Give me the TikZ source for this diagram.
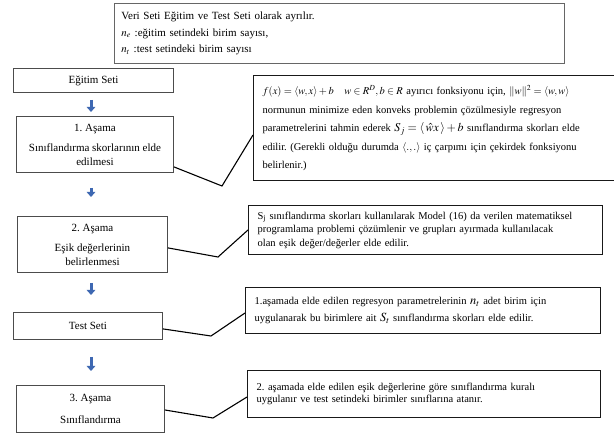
\documentclass[tikz,border=0pt]{standalone}
\usepackage{mathptmx}
\usepackage{fontspec}
\setmainfont{Liberation Serif}
\usetikzlibrary{arrows.meta,calc}
\definecolor{arrowblue}{RGB}{62,104,178}
\frenchspacing
\begin{document}
\begin{tikzpicture}[x=1pt,y=-1pt,
  lbox/.style={draw=black!70, line width=0.9pt, anchor=north west, align=center, inner sep=0pt,
    font=\fontsize{11}{13.5}\selectfont},
  rbox/.style={draw=black!90, line width=1.3pt, anchor=north west, align=left, inner xsep=9pt, inner ysep=0pt},
  topbox/.style={draw=black!60, line width=0.9pt, anchor=north west, align=left, inner xsep=7pt, inner ysep=0pt},
  conn/.style={draw=black, line width=1.1pt},
  barrow/.style={draw=arrowblue, line width=3pt, -{Triangle[width=8.5pt,length=5pt]}}
]
\useasboundingbox (0,0) rectangle (614,435);
\fill[white] (0,0) rectangle (614,435);

% top box
\node[topbox, minimum width=450pt, minimum height=60pt, text width=436pt,
  font=\fontsize{11}{16.5}\selectfont] (top) at (114,3)
  {Veri Seti Eğitim ve Test Seti olarak ayrılır.\\
   $n_e$ :eğitim setindeki birim sayısı,\\
   $n_t$ :test setindeki birim sayısı};

% left column
\node[lbox, minimum width=160pt, minimum height=24pt] (egitim) at (13,68) {Eğitim Seti};
\node[lbox, minimum width=157pt, minimum height=56pt] (asama1) at (16,116)
  {1. Aşama\\[7pt]Sınıflandırma skorlarının elde\\edilmesi};
\node[lbox, minimum width=150pt, minimum height=56pt] (asama2) at (17,216)
  {2. Aşama\\[7pt]Eşik değerlerinin\\belirlenmesi};
\node[lbox, minimum width=149pt, minimum height=27pt] (test) at (13,312) {Test Seti};
\node[lbox, minimum width=148pt, minimum height=47pt] (asama3) at (16,385)
  {3. Aşama\\[9pt]Sınıflandırma};

% right column
\node[rbox, minimum width=359pt, minimum height=105pt, text width=343pt,
  font=\fontsize{10.5}{18.5}\selectfont] (big) at (253,75)
  {$f(x)=\langle w,x\rangle+b$\quad $w\in R^{D}, b\in R$ ayırıcı fonksiyonu için, $\|w\|^{2}=\langle w,w\rangle$\\
   normunun minimize eden konveks problemin çözülmesiyle regresyon\\
   parametrelerini tahmin ederek {\fontsize{12}{18.5}\selectfont $S_{j}=\langle\,\hat{w}x\,\rangle+b$} sınıflandırma skorları elde\\
   edilir. (Gerekli olduğu durumda $\langle.,.\rangle$ iç çarpımı için çekirdek fonksiyonu\\
   belirlenir.)};
\node[rbox, minimum width=352pt, minimum height=49pt, text width=336pt,
  font=\fontsize{10.5}{13.5}\selectfont] (sj) at (248,205)
  {S\textsubscript{j} sınıflandırma skorları kullanılarak Model (16) da verilen matematiksel\\
   programlama problemi çözümlenir ve grupları ayırmada kullanılacak\\
   olan eşik değer/değerler elde edilir.};
\node[rbox, minimum width=353pt, minimum height=46pt, text width=337pt,
  font=\fontsize{10.5}{17}\selectfont] (nt) at (245,287)
  {1.aşamada elde edilen regresyon parametrelerinin {\fontsize{12.5}{17}\selectfont $n_t$} adet birim için\\
   uygulanarak bu birimlere ait {\fontsize{12.5}{17}\selectfont $S_t$} sınıflandırma skorları elde edilir.};
\node[rbox, minimum width=351pt, minimum height=47pt, text width=335pt,
  font=\fontsize{10.5}{12.5}\selectfont] (last) at (247,370)
  {2. aşamada elde edilen eşik değerlerine göre sınıflandırma kuralı\\
   uygulanır ve test setindeki birimler sınıflarına atanır.};

% blue arrows
\coordinate (ax) at (91,0);
\draw[barrow, shorten <=7pt, shorten >=4pt] (egitim.south -| ax) -- (asama1.north -| ax);
\draw[barrow, shorten <=15pt, shorten >=19pt] (asama1.south -| ax) -- (asama2.north -| ax);
\draw[barrow, shorten <=10pt, shorten >=17pt] (asama2.south -| ax) -- (test.north -| ax);
\draw[barrow, shorten <=17pt, shorten >=14pt] (test.south -| ax) -- (asama3.north -| ax);

% connectors
\coordinate (e1) at (222,186);
\coordinate (e2) at (218,257);
\coordinate (e3) at (211,336);
\coordinate (e4) at (213,418);
\draw[conn] ($(asama1.south east)+(0,-6)$) -- (e1) -- ($(big.north west)+(0,60)$);
\draw[conn] ($(asama2.south east)+(0,-25)$) -- (e2) -- ($(sj.north west)+(0,25)$);
\draw[conn] ($(test.south east)+(0,-11)$) -- (e3) -- ($(nt.north west)+(0,26)$);
\draw[conn] ($(asama3.north east)+(0,25)$) -- (e4) -- ($(last.north west)+(0,27)$);
\end{tikzpicture}
\end{document}
